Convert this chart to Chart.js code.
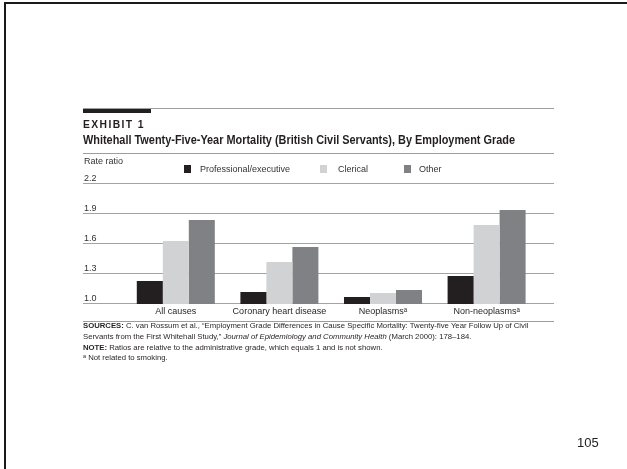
<!DOCTYPE html>
<html>
<head>
<meta charset="utf-8">
<script src="https://cdn.jsdelivr.net/npm/chart.js@4.4.0/dist/chart.umd.min.js"></script>
<style>
  body { margin: 0; width: 627px; height: 469px; position: relative; overflow: hidden; background: #fff;
         font-family: "Liberation Sans", Arial, sans-serif; color: #231f20; }
  #frame { position: absolute; left: 4px; top: 2px; right: -10px; bottom: -10px;
           border-left: 2.5px solid #1a1a1a; border-top: 2.5px solid #1a1a1a; }
  canvas { position: absolute; left: 0; top: 0; }
  .t { position: absolute; white-space: nowrap; transform-origin: 0 50%; }
  .rule { position: absolute; left: 83px; width: 471px; height: 1px; background: #9d9d9d; }
  .box { position: absolute; width: 7px; height: 8px; }
  sup { font-size: 0.7em; vertical-align: 0; position: relative; top: -0.45em; }
</style>
</head>
<body>
<div id="frame"></div>
<canvas id="chart" width="627" height="469"></canvas>
<div class="rule" style="top:108px"></div>
<div style="position:absolute;left:83px;top:109px;width:68px;height:4px;background:#231f20"></div>
<div class="rule" style="top:153px"></div>
<div class="rule" style="top:321px"></div>
<script>
// Whitehall mortality rate ratios by employment grade
const categories = ['All causes', 'Coronary heart disease', 'Neoplasms\u1d43', 'Non-neoplasms\u1d43'];
const grades = ['Professional/executive', 'Clerical', 'Other'];
const professional = [1.23, 1.12, 1.07, 1.28];
const clerical = [1.63, 1.42, 1.11, 1.79];
const other = [1.84, 1.57, 1.14, 1.94];
const yTicks = [1.0, 1.3, 1.6, 1.9, 2.2];
const colors = ['#231f20', '#d1d2d4', '#808185'];

const FONT = '"Liberation Sans", Arial, sans-serif';

function text(html, x, y, size, opts) {
  opts = opts || {};
  var el = document.createElement('div');
  el.className = 't';
  el.innerHTML = html;
  el.style.left = x + 'px';
  el.style.top = (y - size / 2) + 'px';
  el.style.fontSize = size + 'px';
  el.style.lineHeight = size + 'px';
  if (opts.bold) el.style.fontWeight = 'bold';
  if (opts.spacing) el.style.letterSpacing = opts.spacing + 'px';
  if (opts.color) el.style.color = opts.color;
  document.body.appendChild(el);
  if (opts.width) opts.scale = opts.width / el.offsetWidth;
  if (opts.scale) el.style.transform = 'scaleX(' + opts.scale + ')';
  return el;
}

text('EXHIBIT 1', 83, 124.5, 10.5, { bold: true, spacing: 1.4, width: 62 });
text('Whitehall Twenty-Five-Year Mortality (British Civil Servants), By Employment Grade', 83, 140, 12.5, { bold: true, width: 432 });
text('Rate ratio', 84, 161.5, 9, { color: '#333' });

// legend
var legendX = [[184, 200], [320, 338], [404, 419]];
grades.forEach(function (g, i) {
  var b = document.createElement('div');
  b.className = 'box';
  b.style.left = legendX[i][0] + 'px';
  b.style.top = '165px';
  b.style.background = colors[i];
  document.body.appendChild(b);
  text(g, legendX[i][1], 169.5, 9, { color: '#333' });
});

// sources and notes, all squeezed by the same factor as the first line
var src = { width: 445 };
text('<b>SOURCES:</b> C. van Rossum et al., \u201cEmployment Grade Differences in Cause Specific Mortality: Twenty-five Year Follow Up of Civil', 83, 326, 7.6, src);
text('Servants from the First Whitehall Study,\u201d <i>Journal of Epidemiology and Community Health</i> (March 2000): 178\u2013184.', 83, 337, 7.6, { scale: src.scale });
text('<b>NOTE:</b> Ratios are relative to the administrative grade, which equals 1 and is not shown.', 83, 347.5, 7.6, { scale: src.scale });
text('<sup>a</sup> Not related to smoking.', 83, 358, 7.6, { scale: src.scale });

text('105', 577, 442, 13, { color: '#222' });

// horizontal rules and their value labels, drawn behind the bars
const gridLines = {
  id: 'gridLines',
  beforeDatasetsDraw(chart) {
    const ctx = chart.ctx, y = chart.scales.y;
    ctx.save();
    ctx.strokeStyle = '#a3a3a3';
    ctx.lineWidth = 1;
    ctx.fillStyle = '#333';
    ctx.font = '9px ' + FONT;
    ctx.textBaseline = 'alphabetic';
    yTicks.forEach(function (v) {
      const py = Math.round(y.getPixelForValue(v)) - 0.5;
      ctx.beginPath();
      ctx.moveTo(83, py);
      ctx.lineTo(554, py);
      ctx.stroke();
      ctx.fillText(v.toFixed(1), 84, py - 3);
    });
    ctx.restore();
  }
};

new Chart(document.getElementById('chart'), {
  type: 'bar',
  data: {
    labels: categories,
    datasets: [professional, clerical, other].map(function (d, i) {
      return {
        label: grades[i],
        data: d,
        backgroundColor: colors[i],
        borderWidth: 0,
        categoryPercentage: 0.753,
        barPercentage: 1
      };
    })
  },
  options: {
    responsive: false,
    animation: false,
    layout: { padding: { top: 184, left: 124, right: 88.6, bottom: 145 } },
    plugins: { legend: { display: false }, tooltip: { enabled: false } },
    scales: {
      x: {
        grid: { display: false, drawTicks: false },
        border: { display: false },
        ticks: { color: '#231f20', font: { size: 9, family: FONT }, padding: 2, maxRotation: 0, autoSkip: false },
        afterFit: function (s) { s.height = 20; }
      },
      y: { display: false, min: 1.0, max: 2.2, ticks: { stepSize: 0.3 } }
    }
  },
  plugins: [gridLines]
});
</script>
</body>
</html>
